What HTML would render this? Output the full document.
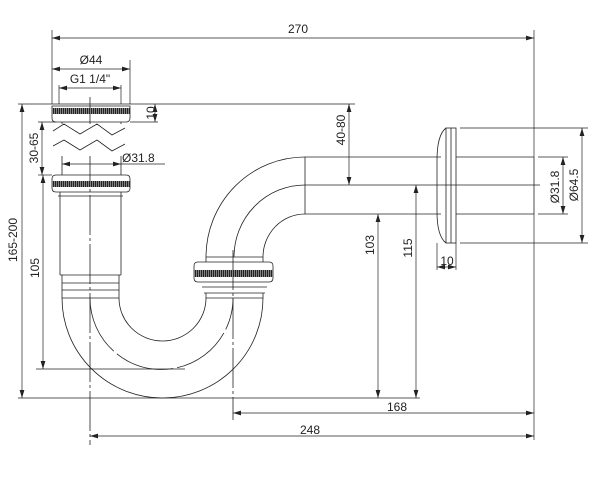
<!DOCTYPE html>
<html><head><style>
html,body{margin:0;padding:0;background:#fff;}
svg{display:block;}
text{font-family:"Liberation Sans",sans-serif;font-size:12px;fill:#222;}
</style></head><body>
<svg width="600" height="483" viewBox="0 0 600 483" xmlns="http://www.w3.org/2000/svg">
<defs>
<marker id="a" viewBox="0 0 10 6" refX="10" refY="3" markerWidth="8" markerHeight="5" orient="auto-start-reverse" markerUnits="userSpaceOnUse"><path d="M0,0 L10,3 L0,6z" fill="#222"/></marker>
<pattern id="kn" width="2" height="4" patternUnits="userSpaceOnUse"><rect width="2" height="4" fill="#222"/><rect width="0.8" height="4" fill="#999"/></pattern>
</defs>
<g fill="none" stroke="#222" stroke-width="0.8">
<!-- centerlines -->
<line x1="90" y1="97" x2="90" y2="445" stroke-dasharray="40,3,3,3"/>
<line x1="233" y1="250" x2="233" y2="420" stroke-dasharray="40,3,3,3"/>
<line x1="305" y1="185" x2="540" y2="185"/>
<path d="M90,298 A71,71 0 0 0 233,298" stroke-dasharray="60,4"/>
<path d="M234,257 A71,72 0 0 1 305,185"/>

<!-- top flange -->
<path d="M52,106 H130 V118 Q130,122 126,122 H56 Q52,122 52,118 Z"/>
<rect x="52" y="108" width="78" height="6" fill="url(#kn)" stroke="none"/>
<!-- pipe with break -->
<line x1="62" y1="122" x2="62" y2="175"/><line x1="121" y1="122" x2="121" y2="175"/>
<rect x="55" y="124" width="72" height="32" fill="#fff" stroke="none"/>
<polyline points="53,131 64,124 80,134 97,124 112,135 125,128"/>
<polyline points="53,146 64,140 80,150 97,140 112,151 125,144"/>
<!-- second flange -->
<path d="M56,175 H126 Q130,175 130,179 V188 Q130,192 126,192 H56 Q52,192 52,188 V179 Q52,175 56,175 Z"/>
<rect x="52" y="181" width="78" height="6" fill="url(#kn)" stroke="none"/>
<line x1="60" y1="192" x2="60" y2="275"/><line x1="121" y1="192" x2="121" y2="275"/>
<line x1="58" y1="196" x2="123" y2="196"/>
<line x1="60" y1="275" x2="121" y2="275"/>
<line x1="62" y1="283" x2="119" y2="283"/>
<line x1="62" y1="290" x2="119" y2="290"/>
<line x1="62" y1="275" x2="62" y2="298"/><line x1="119" y1="275" x2="119" y2="298"/>
<line x1="62" y1="298" x2="119" y2="298"/>
<!-- U bend -->
<path d="M62,298 A100.5,100 0 0 0 263,298"/>
<path d="M119,298 A43.5,43 0 0 0 206,298"/>
<!-- right riser -->
<line x1="206" y1="298" x2="263" y2="298"/>
<line x1="206" y1="293" x2="206" y2="298"/><line x1="263" y1="293" x2="263" y2="298"/>
<line x1="204" y1="293" x2="265" y2="293"/>
<line x1="202" y1="287" x2="267" y2="287"/>
<path d="M198,262 H269 Q273,262 273,266 V278 Q273,282 269,282 H198 Q194,282 194,278 V266 Q194,262 198,262 Z"/>
<rect x="194" y="270" width="79" height="7" fill="url(#kn)" stroke="none"/>
<line x1="206" y1="257" x2="206" y2="262"/><line x1="263" y1="257" x2="263" y2="262"/>
<line x1="206" y1="257" x2="263" y2="257"/>
<!-- bend -->
<path d="M206,257 A99,100 0 0 1 305,157"/>
<path d="M263,257 A42,43 0 0 1 305,214"/>
<!-- horizontal pipe -->
<line x1="305" y1="157" x2="441" y2="157"/><line x1="305" y1="214" x2="441" y2="214"/>
<line x1="305" y1="157" x2="305" y2="214"/>
<line x1="456" y1="157" x2="534" y2="157"/><line x1="456" y1="214" x2="534" y2="214"/>
<line x1="534" y1="157" x2="534" y2="214"/>
<!-- escutcheon -->
<path d="M446,128 Q437,135 437,160 V212 Q437,236 446,243"/>
<rect x="446" y="128" width="10" height="115"/>
<line x1="451" y1="128" x2="451" y2="243"/>

<!-- dimensions -->
<g stroke-width="0.7">
<line x1="52" y1="30" x2="52" y2="104"/><line x1="534" y1="30" x2="534" y2="157"/><line x1="534" y1="214" x2="534" y2="440"/>
<line x1="52" y1="38" x2="534" y2="38" marker-start="url(#a)" marker-end="url(#a)"/>
<line x1="130" y1="60" x2="130" y2="104"/>
<line x1="52" y1="69" x2="130" y2="69" marker-start="url(#a)" marker-end="url(#a)"/>
<line x1="59" y1="85" x2="59" y2="104"/><line x1="121" y1="85" x2="121" y2="104"/>
<line x1="59" y1="88" x2="121" y2="88" marker-start="url(#a)" marker-end="url(#a)"/>
<line x1="18" y1="104" x2="355" y2="104"/>
<line x1="130" y1="122" x2="158" y2="122"/>
<line x1="155" y1="104" x2="155" y2="122" marker-start="url(#a)" marker-end="url(#a)"/>
<line x1="38" y1="122" x2="56" y2="122"/>
<line x1="38" y1="175" x2="52" y2="175"/>
<line x1="42" y1="122" x2="42" y2="175" marker-start="url(#a)" marker-end="url(#a)"/>
<line x1="62" y1="164" x2="121" y2="164" marker-start="url(#a)" marker-end="url(#a)"/>
<line x1="121" y1="164" x2="165" y2="164"/>
<line x1="22" y1="104" x2="22" y2="398" marker-start="url(#a)" marker-end="url(#a)"/>
<line x1="43" y1="175" x2="43" y2="369" marker-start="url(#a)" marker-end="url(#a)"/>
<line x1="36" y1="369" x2="185" y2="369"/>
<line x1="18" y1="398" x2="420" y2="398"/>
<line x1="233" y1="413" x2="534" y2="413" marker-start="url(#a)" marker-end="url(#a)"/>
<line x1="90" y1="436" x2="534" y2="436" marker-start="url(#a)" marker-end="url(#a)"/>
<line x1="349" y1="104" x2="349" y2="185" marker-start="url(#a)" marker-end="url(#a)"/>
<line x1="378" y1="214" x2="378" y2="398" marker-start="url(#a)" marker-end="url(#a)"/>
<line x1="416" y1="185" x2="416" y2="398" marker-start="url(#a)" marker-end="url(#a)"/>
<line x1="437" y1="243" x2="437" y2="270"/><line x1="456" y1="243" x2="456" y2="270"/>
<line x1="437" y1="267" x2="456" y2="267" marker-start="url(#a)" marker-end="url(#a)"/>
<line x1="460" y1="128" x2="588" y2="128"/><line x1="460" y1="243" x2="588" y2="243"/>
<line x1="538" y1="157" x2="568" y2="157"/><line x1="538" y1="214" x2="568" y2="214"/>
<line x1="563" y1="157" x2="563" y2="214" marker-start="url(#a)" marker-end="url(#a)"/>
<line x1="582" y1="128" x2="582" y2="243" marker-start="url(#a)" marker-end="url(#a)"/>
</g>
</g>
<g>
<text x="298" y="33" text-anchor="middle">270</text>
<text x="91" y="64" text-anchor="middle">Ø44</text>
<text x="90" y="83" text-anchor="middle">G1 1/4"</text>
<text x="122" y="162">Ø31.8</text>
<text x="397" y="411" text-anchor="middle">168</text>
<text x="310" y="434" text-anchor="middle">248</text>
<text x="447" y="265" text-anchor="middle">10</text>
<text transform="translate(155,113) rotate(-90)" text-anchor="middle">10</text>
<text transform="translate(38,148) rotate(-90)" text-anchor="middle">30-65</text>
<text transform="translate(17,240) rotate(-90)" text-anchor="middle">165-200</text>
<text transform="translate(39,268) rotate(-90)" text-anchor="middle">105</text>
<text transform="translate(345,130) rotate(-90)" text-anchor="middle">40-80</text>
<text transform="translate(374,245) rotate(-90)" text-anchor="middle">103</text>
<text transform="translate(412,248) rotate(-90)" text-anchor="middle">115</text>
<text transform="translate(559,187) rotate(-90)" text-anchor="middle">Ø31.8</text>
<text transform="translate(578,185) rotate(-90)" text-anchor="middle">Ø64.5</text>
</g>
</svg>
</body></html>
